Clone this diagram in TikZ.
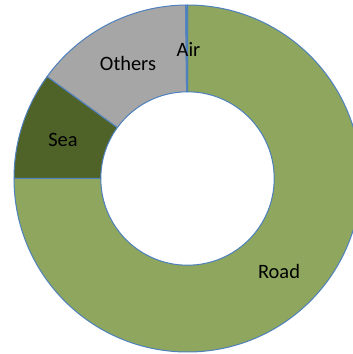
\documentclass[tikz,border=0pt]{standalone}
\usepackage{fontspec}
\setmainfont{Carlito}
\usetikzlibrary{calc}
\definecolor{roadc}{HTML}{8EA65E}
\definecolor{seac}{HTML}{4F6228}
\definecolor{otherc}{HTML}{A6A6A6}
\definecolor{edgec}{HTML}{4F81BD}
\begin{document}
\begin{tikzpicture}[x=1bp,y=1bp,
  seg/.style={draw=edgec,line width=1bp,line join=round},
  lbl/.style={font=\fontsize{20.5}{24}\selectfont,text=black,anchor=base,inner sep=0pt}]
\useasboundingbox (0,0) rectangle (353,354);
\clip (0,0) rectangle (353,354);
\coordinate (c) at (187.5,175.5);
\def\Ro{173.5}
\def\Ri{86.7}
% Road
\path[seg,fill=roadc] ($(c)+(-180:\Ro)$) arc[start angle=-180,end angle=90,radius=\Ro]
  -- ($(c)+(90:\Ri)$) arc[start angle=90,end angle=-180,radius=\Ri] -- cycle;
% Sea
\path[seg,fill=seac] ($(c)+(144:\Ro)$) arc[start angle=144,end angle=180,radius=\Ro]
  -- ($(c)+(180:\Ri)$) arc[start angle=180,end angle=144,radius=\Ri] -- cycle;
% Others
\path[seg,fill=otherc] ($(c)+(90.6:\Ro)$) arc[start angle=90.6,end angle=144,radius=\Ro]
  -- ($(c)+(144:\Ri)$) arc[start angle=144,end angle=90.6,radius=\Ri] -- cycle;
% Air
\path[seg,fill=edgec] ($(c)+(90:\Ro)$) arc[start angle=90,end angle=90.6,radius=\Ro]
  -- ($(c)+(90.6:\Ri)$) arc[start angle=90.6,end angle=90,radius=\Ri] -- cycle;
% labels
\node[lbl] (air) at (188.5,298) {Air};
\node[lbl] (others) at (128,284) {Others};
\node[lbl] (sea) at (63,208) {Sea};
\node[lbl] (road) at (279,76) {Road};
\end{tikzpicture}
\end{document}
